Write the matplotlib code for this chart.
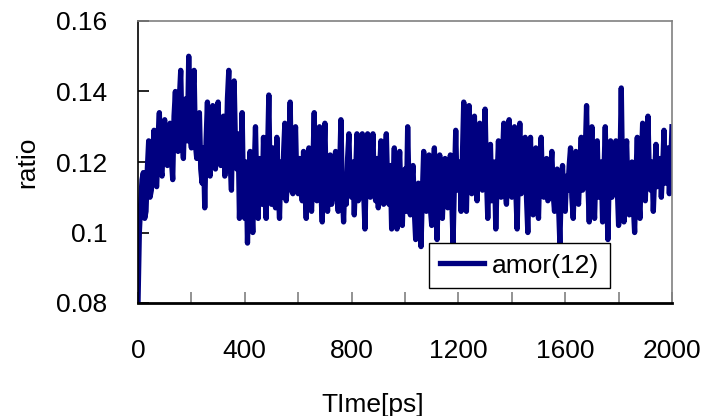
import numpy as np
import matplotlib
matplotlib.use("Agg")
import matplotlib.pyplot as plt
from matplotlib.ticker import MultipleLocator

plt.rcParams['font.family'] = ['Liberation Sans', 'DejaVu Sans']

# time axis, every 5 ps
time_ps = np.arange(0, 2001, 5)

# ratio
ratio = [
    0.080, 0.100, 0.108, 0.115, 0.117, 0.104, 0.106, 0.118, 0.126, 0.110,
    0.112, 0.122, 0.129, 0.114, 0.113, 0.127, 0.134, 0.118, 0.116, 0.130,
    0.132, 0.120, 0.119, 0.128, 0.131, 0.121, 0.115, 0.133, 0.140, 0.126,
    0.123, 0.138, 0.146, 0.127, 0.121, 0.135, 0.138, 0.126, 0.150, 0.128,
    0.124, 0.139, 0.146, 0.125, 0.121, 0.131, 0.134, 0.118, 0.114, 0.124,
    0.107, 0.126, 0.137, 0.119, 0.116, 0.130, 0.136, 0.120, 0.118, 0.131,
    0.137, 0.122, 0.119, 0.128, 0.133, 0.116, 0.121, 0.138, 0.146, 0.120,
    0.112, 0.135, 0.143, 0.125, 0.118, 0.128, 0.104, 0.118, 0.134, 0.110,
    0.104, 0.120, 0.097, 0.112, 0.123, 0.108, 0.100, 0.117, 0.130, 0.112,
    0.104, 0.121, 0.118, 0.108, 0.127, 0.111, 0.104, 0.122, 0.139, 0.113,
    0.108, 0.124, 0.118, 0.107, 0.127, 0.113, 0.104, 0.120, 0.110, 0.122,
    0.131, 0.109, 0.115, 0.124, 0.137, 0.112, 0.111, 0.122, 0.130, 0.113,
    0.111, 0.121, 0.116, 0.109, 0.123, 0.113, 0.104, 0.117, 0.124, 0.110,
    0.106, 0.119, 0.134, 0.111, 0.109, 0.121, 0.130, 0.112, 0.103, 0.119,
    0.131, 0.111, 0.106, 0.120, 0.122, 0.108, 0.114, 0.119, 0.123, 0.110,
    0.106, 0.117, 0.132, 0.112, 0.103, 0.116, 0.108, 0.121, 0.128, 0.111,
    0.110, 0.120, 0.105, 0.116, 0.128, 0.109, 0.110, 0.121, 0.128, 0.112,
    0.101, 0.118, 0.128, 0.111, 0.110, 0.119, 0.128, 0.112, 0.109, 0.121,
    0.107, 0.118, 0.126, 0.110, 0.108, 0.120, 0.128, 0.113, 0.108, 0.119,
    0.101, 0.114, 0.124, 0.108, 0.101, 0.115, 0.123, 0.109, 0.102, 0.116,
    0.118, 0.106, 0.130, 0.112, 0.105, 0.114, 0.119, 0.106, 0.098, 0.110,
    0.114, 0.104, 0.096, 0.111, 0.123, 0.108, 0.106, 0.116, 0.122, 0.107,
    0.102, 0.115, 0.124, 0.108, 0.098, 0.114, 0.122, 0.109, 0.104, 0.115,
    0.121, 0.110, 0.107, 0.116, 0.122, 0.109, 0.097, 0.114, 0.129, 0.112,
    0.113, 0.120, 0.106, 0.122, 0.137, 0.115, 0.106, 0.124, 0.136, 0.118,
    0.111, 0.125, 0.133, 0.116, 0.109, 0.122, 0.131, 0.114, 0.112, 0.121,
    0.135, 0.116, 0.104, 0.118, 0.125, 0.109, 0.113, 0.120, 0.101, 0.115,
    0.126, 0.112, 0.110, 0.121, 0.131, 0.112, 0.108, 0.120, 0.132, 0.113,
    0.110, 0.122, 0.130, 0.112, 0.101, 0.118, 0.131, 0.111, 0.112, 0.120,
    0.127, 0.110, 0.100, 0.116, 0.127, 0.109, 0.105, 0.118, 0.124, 0.111,
    0.104, 0.119, 0.127, 0.112, 0.110, 0.118, 0.121, 0.109, 0.110, 0.117,
    0.123, 0.111, 0.106, 0.115, 0.118, 0.108, 0.097, 0.112, 0.119, 0.109,
    0.106, 0.116, 0.112, 0.119, 0.124, 0.110, 0.104, 0.116, 0.123, 0.111,
    0.108, 0.118, 0.127, 0.112, 0.113, 0.122, 0.136, 0.114, 0.103, 0.118,
    0.130, 0.111, 0.104, 0.119, 0.126, 0.110, 0.113, 0.120, 0.103, 0.116,
    0.130, 0.112, 0.098, 0.117, 0.126, 0.110, 0.112, 0.121, 0.126, 0.113,
    0.102, 0.118, 0.141, 0.114, 0.103, 0.119, 0.126, 0.111, 0.105, 0.117,
    0.120, 0.108, 0.100, 0.116, 0.127, 0.110, 0.104, 0.119, 0.131, 0.113,
    0.109, 0.122, 0.133, 0.116, 0.112, 0.120, 0.106, 0.116, 0.125, 0.113,
    0.115, 0.121, 0.110, 0.118, 0.129, 0.114, 0.118, 0.124, 0.111, 0.119,
    0.130,
]

fig = plt.figure(figsize=(7.07, 4.16), dpi=100)
ax = fig.add_axes([138 / 707, 1 - 303 / 416, 534 / 707, 282 / 416])

ax.plot(time_ps, ratio, color='#000080', linewidth=3.8, label='amor(12)')

ax.set_xlim(0, 2000)
ax.set_ylim(0.08, 0.16)
ax.set_xticks([0, 400, 800, 1200, 1600, 2000])
ax.set_xticklabels(['0', '400', '800', '1200', '1600', '2000'])
ax.xaxis.set_minor_locator(MultipleLocator(200))
ax.set_yticks([0.08, 0.10, 0.12, 0.14, 0.16])
ax.set_yticklabels(['0.08', '0.1', '0.12', '0.14', '0.16'])

ax.tick_params(axis='both', which='both', direction='in', labelsize=19,
               colors='#000000')
ax.tick_params(axis='x', which='both', length=8, width=1.2, color='#808080', pad=26)
ax.tick_params(axis='y', which='major', length=8, width=1.2, pad=22)

for side in ['top', 'right']:
    ax.spines[side].set_color('#808080')
    ax.spines[side].set_linewidth(1.2)
ax.spines['left'].set_color('black')
ax.spines['left'].set_linewidth(1.2)
ax.spines['bottom'].set_color('black')
ax.spines['bottom'].set_linewidth(2.0)

ax.set_xlabel('TIme[ps]', fontsize=19)
ax.xaxis.set_label_coords(0.44, -0.32)
ax.set_ylabel('ratio', fontsize=19)
ax.yaxis.set_label_coords(-0.185, 0.5)

leg = ax.legend(loc='upper left', bbox_to_anchor=((429 - 138) / 534, (303 - 243) / 282),
                fontsize=19, frameon=True, fancybox=False, framealpha=1,
                edgecolor='black', handlelength=1.7, handletextpad=0.3,
                borderpad=0.4, borderaxespad=0)
leg.get_frame().set_linewidth(1.0)

fig.savefig('out.png', dpi=100)
